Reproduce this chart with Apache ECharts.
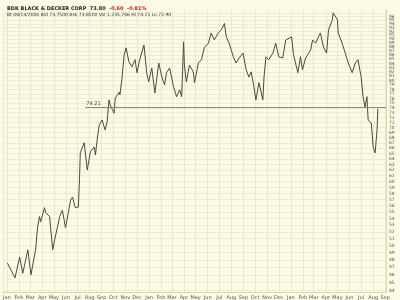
<!DOCTYPE html>
<html><head><meta charset="utf-8">
<script src="https://cdn.jsdelivr.net/npm/echarts@6/dist/echarts.min.js"></script>
<style>html,body{margin:0;padding:0;background:#fdfbe6}#c{width:400px;height:300px}</style>
</head><body><div id="c"></div>
<script>
const dates = [
'2004-01-02','2004-01-09','2004-01-22','2004-02-03','2004-02-11','2004-02-24','2004-03-03','2004-03-15','2004-03-20','2004-03-25',
'2004-03-28','2004-04-07','2004-04-10','2004-04-20','2004-04-28','2004-05-03','2004-05-16','2004-05-23','2004-05-31','2004-06-13',
'2004-06-18','2004-06-25','2004-07-03','2004-07-06','2004-07-08','2004-07-18','2004-07-26','2004-08-03','2004-08-13','2004-08-16',
'2004-08-21','2004-08-26','2004-09-02','2004-09-10','2004-09-15','2004-09-20','2004-09-23','2004-10-03','2004-10-06','2004-10-16',
'2004-10-18','2004-10-23','2004-10-29','2004-11-03','2004-11-10','2004-11-18','2004-11-26','2004-12-01','2004-12-08','2004-12-19',
'2004-12-21','2004-12-26','2004-12-31','2005-01-08','2005-01-16','2005-01-26','2005-02-03','2005-02-10','2005-02-15','2005-02-23',
'2005-03-05','2005-03-13','2005-03-21','2005-03-26','2005-03-31','2005-04-02','2005-04-07','2005-04-15','2005-04-25','2005-04-28',
'2005-05-08','2005-05-16','2005-05-23','2005-06-03','2005-06-10','2005-06-18','2005-06-28','2005-07-06','2005-07-14','2005-07-19',
'2005-07-26','2005-08-06','2005-08-13','2005-08-21','2005-08-31','2005-09-08','2005-09-15','2005-09-21','2005-09-28','2005-10-03',
'2005-10-11','2005-10-21','2005-10-24','2005-10-29','2005-11-05','2005-11-16','2005-11-23','2005-12-01','2005-12-11','2005-12-19',
'2006-01-03','2006-01-08','2006-01-19','2006-01-26','2006-01-31','2006-02-08','2006-02-21','2006-02-26','2006-03-06','2006-03-13',
'2006-03-18','2006-03-26','2006-04-03','2006-04-08','2006-04-18','2006-04-20','2006-05-01','2006-05-03','2006-05-13','2006-05-21',
'2006-05-29','2006-06-08','2006-06-16','2006-06-23','2006-07-01','2006-07-06','2006-07-11','2006-07-16','2006-07-19','2006-07-27',
'2006-08-01','2006-08-06','2006-08-11','2006-08-13'
];
const prices = [
47.6,46.9,45.6,48.4,46.2,49.4,46.0,49.4,52.6,54.3,
53.5,55.7,54.9,54.3,49.4,50.8,54.3,55.3,52.6,56.9,
57.4,55.7,55.8,60.3,65.1,67.0,62.0,65.3,66.2,64.7,
67.9,70.5,71.5,69.5,71.1,75.7,74.6,72.9,76.1,77.4,
76.8,80.2,86.1,87.8,84.4,83.2,84.9,81.8,84.9,88.5,
86.5,81.8,79.7,82.9,77.2,84.1,80.8,79.0,81.8,82.9,
78.6,76.4,77.9,76.4,89.3,83.6,79.7,83.6,82.0,79.5,
84.1,84.9,87.8,89.0,91.6,89.8,91.6,92.4,94.1,90.6,
89.0,85.6,84.1,85.3,86.5,82.5,80.8,82.0,78.6,75.7,
79.5,75.7,80.8,85.6,84.9,86.5,89.0,85.6,85.3,89.8,
90.6,86.1,81.8,85.6,82.5,85.3,87.3,89.8,89.0,90.6,
91.6,88.0,86.5,92.4,95.1,97.0,95.1,91.6,89.0,86.5,
84.1,81.8,84.1,84.9,80.8,76.4,74.2,76.4,71.5,70.9,
66.2,65.1,69.5,73.8
];
const yTicks = [];
for (let v = 44; v <= 97; v++) yTicks.push(v);
const monthNames = ['Jan','Feb','Mar','Apr','May','Jun','Jul','Aug','Sep','Oct','Nov','Dec'];
const refLevel = 74.21;
const titleMain = 'BDK BLACK & DECKER CORP  73.80';
const titleChg = '-0.60  -0.81%';
const subLine = 'Bt 08/14/2006 Bid 73.7500 Ask 73.8500 Vol 1,235,706 Hi 74.21 Lo 72.90';

const chart = echarts.init(document.getElementById('c'), null, {renderer: 'canvas'});
chart.setOption({
  animation: false,
  backgroundColor: '#fdfbe6',
  title: {
    left: 2, top: 1, itemGap: 1,
    text: '{a|' + titleMain + '}  {b|' + titleChg + '}',
    textStyle: {
      fontSize: 5, fontWeight: 'bold', fontFamily: 'DejaVu Sans', color: '#222',
      rich: {
        a: {fontSize: 5, fontWeight: 'bold', fontFamily: 'DejaVu Sans', color: '#222'},
        b: {fontSize: 5, fontWeight: 'bold', fontFamily: 'DejaVu Sans', color: '#d02020'}
      }
    },
    subtext: subLine,
    subtextStyle: {fontSize: 4.5, fontFamily: 'DejaVu Sans', color: '#333'}
  },
  grid: {left: 0, right: 14, top: 10, bottom: 8},
  xAxis: {
    type: 'time',
    min: '2003-12-22', max: '2006-09-03',
    minInterval: 28 * 86400000, maxInterval: 31 * 86400000,
    axisLine: {show: true, lineStyle: {color: '#d8d5b8'}},
    axisTick: {show: false},
    axisLabel: {
      fontSize: 5, color: '#555', fontFamily: 'DejaVu Sans', margin: 3, hideOverlap: false,
      formatter: function (v) { return monthNames[new Date(v).getMonth()]; }
    },
    splitLine: {show: true, lineStyle: {color: '#ebe8cc', width: 1}}
  },
  yAxis: {
    type: 'log', logBase: 10, position: 'right',
    min: 43.8, max: 97.8,
    axisLine: {show: true, lineStyle: {color: '#d8d5b8'}},
    axisTick: {show: false, customValues: yTicks},
    axisLabel: {fontSize: 4.5, color: '#555', fontFamily: 'DejaVu Sans', margin: 3, customValues: yTicks, hideOverlap: false,
      formatter: function (v) { return String(Math.round(v)); }},
    splitLine: {show: true, lineStyle: {color: '#efecd2', width: 1}}
  },
  series: [{
    type: 'line',
    data: dates.map((d, i) => [d, prices[i]]),
    symbol: 'none',
    lineStyle: {color: '#4a4a42', width: 1},
    markLine: {
      silent: true, symbol: 'none',
      lineStyle: {color: '#8a8a76', width: 1, type: 'solid'},
      label: {show: true, position: 'insideStartTop', fontSize: 5, color: '#444', fontFamily: 'DejaVu Sans', distance: 1,
        formatter: String(refLevel)},
      data: [[{coord: ['2004-07-21', refLevel]}, {coord: ['2006-09-03', refLevel]}]]
    }
  }]
});
</script></body></html>
